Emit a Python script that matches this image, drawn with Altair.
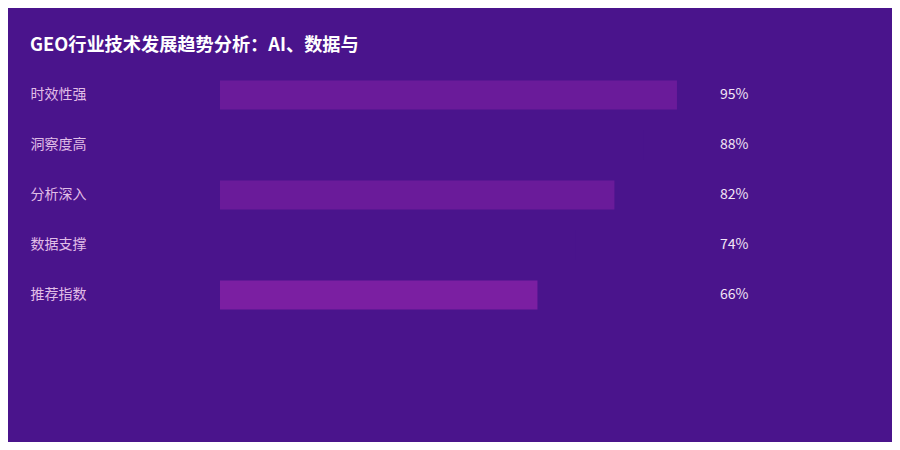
import altair as alt
import pandas as pd

title_text = "GEO行业技术发展趋势分析：AI、数据与"
categories = ["时效性强", "洞察度高", "分析深入", "数据支撑", "推荐指数"]
values = [95, 88, 82, 74, 66]
value_labels = ["95%", "88%", "82%", "74%", "66%"]
bar_colors = ["#6a1b9a", "#4a148c", "#6a1b9a", "#4a148c", "#7b1fa2"]

BG = "#4a148c"
FONT = "Noto Sans CJK SC"

df = pd.DataFrame({"category": categories, "value": values, "label": value_labels})

y_enc = alt.Y(
    "category:N",
    sort=categories,
    scale=alt.Scale(paddingInner=0.42, paddingOuter=0.21),
    axis=alt.Axis(
        title=None, domain=False, ticks=False, grid=False,
        labelAlign="left", labelPadding=190, labelColor="#e1bee7",
        labelFontSize=14, labelFont=FONT, labelLimit=0,
    ),
)

bars = alt.Chart(df).mark_bar(cornerRadius=0).encode(
    x=alt.X("value:Q", scale=alt.Scale(domain=[0, 100]), axis=None),
    y=y_enc,
    color=alt.Color("category:N", scale=alt.Scale(domain=categories, range=bar_colors), legend=None),
)

texts = alt.Chart(df).mark_text(
    align="left", baseline="middle", font=FONT, fontSize=14, color="#f3e5f5"
).encode(
    x=alt.value(500),
    y=alt.Y("category:N", sort=categories),
    text="label:N",
)

chart = alt.layer(bars, texts).properties(
    width=481,
    height=250,
    background=BG,
    padding={"left": 212, "top": 62, "right": 191, "bottom": 122},
    autosize=alt.AutoSizeParams(type="none"),
    title=alt.TitleParams(
        text=title_text, anchor="start", frame="bounds", offset=15,
        font=FONT, fontSize=18.2, fontWeight="bold", color="#ffffff",
    ),
).configure_view(stroke=None, fill=BG)

chart.save("out.html", embed_options={"renderer": "svg", "actions": False})
